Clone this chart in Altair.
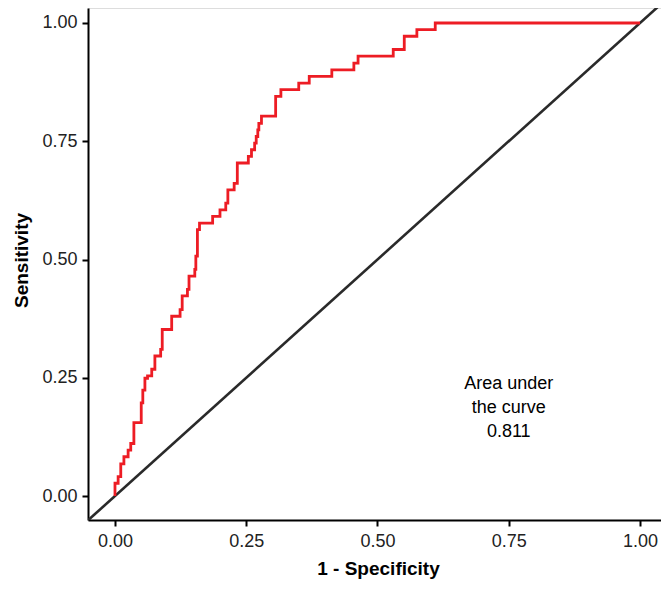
import altair as alt
import pandas as pd

# ROC curve vertices (1 - specificity, sensitivity)
fpr = [0.000, 0.000, 0.006, 0.006, 0.011, 0.011, 0.017, 0.017, 0.025, 0.025,
       0.030, 0.030, 0.036, 0.036, 0.050, 0.050, 0.053, 0.053, 0.057, 0.057,
       0.062, 0.062, 0.070, 0.070, 0.076, 0.076, 0.087, 0.087, 0.090, 0.090,
       0.108, 0.108, 0.124, 0.124, 0.128, 0.128, 0.138, 0.138, 0.141, 0.141,
       0.152, 0.152, 0.154, 0.154, 0.157, 0.157, 0.161, 0.161, 0.186, 0.186,
       0.200, 0.200, 0.211, 0.211, 0.215, 0.215, 0.227, 0.227, 0.233, 0.233,
       0.254, 0.254, 0.260, 0.260, 0.266, 0.266, 0.269, 0.269, 0.272, 0.272,
       0.274, 0.274, 0.279, 0.279, 0.306, 0.306, 0.316, 0.316, 0.350, 0.350,
       0.370, 0.370, 0.413, 0.413, 0.455, 0.455, 0.463, 0.463, 0.530, 0.530,
       0.551, 0.551, 0.575, 0.575, 0.610, 0.610, 1.000]
tpr = [0.000, 0.027, 0.027, 0.041, 0.041, 0.068, 0.068, 0.083, 0.083, 0.097,
       0.097, 0.111, 0.111, 0.155, 0.155, 0.197, 0.197, 0.224, 0.224, 0.249,
       0.249, 0.254, 0.254, 0.268, 0.268, 0.296, 0.296, 0.310, 0.310, 0.352,
       0.352, 0.380, 0.380, 0.394, 0.394, 0.423, 0.423, 0.437, 0.437, 0.465,
       0.465, 0.479, 0.479, 0.507, 0.507, 0.563, 0.563, 0.577, 0.577, 0.591,
       0.591, 0.605, 0.605, 0.619, 0.619, 0.647, 0.647, 0.661, 0.661, 0.704,
       0.704, 0.718, 0.718, 0.732, 0.732, 0.746, 0.746, 0.760, 0.760, 0.774,
       0.774, 0.788, 0.788, 0.803, 0.803, 0.845, 0.845, 0.859, 0.859, 0.873,
       0.873, 0.887, 0.887, 0.901, 0.901, 0.915, 0.915, 0.930, 0.930, 0.944,
       0.944, 0.972, 0.972, 0.986, 0.986, 1.000, 1.000]

diag_vals = [-0.1, 1.1]
tick_vals = [0.0, 0.25, 0.5, 0.75, 1.0]
auc = 0.811
annotation = ["Area under", "the curve", f"{auc:.3f}"]

roc = pd.DataFrame({"fpr": fpr, "tpr": tpr, "order": list(range(len(fpr)))})
diag = pd.DataFrame({"v": diag_vals})

FONT = "Liberation Sans"
xdom = [-0.0514, 1.04]
ydom = [-0.0507, 1.0317]

xscale = alt.Scale(domain=xdom, nice=False, zero=False)
yscale = alt.Scale(domain=ydom, nice=False, zero=False)

x_axis = alt.Axis(values=tick_vals, format=".2f", title="1 - Specificity",
                  grid=False, domainColor="black", domainWidth=2,
                  tickColor="black", tickWidth=2, tickSize=6,
                  labelFont=FONT, labelFontSize=18, labelColor="#222222",
                  labelPadding=6,
                  titleFont=FONT, titleFontSize=19, titleFontWeight="bold",
                  titleColor="black", titleX=290, titleY=48,
                  titleBaseline="middle", titleAlign="center")
y_axis = alt.Axis(values=tick_vals, format=".2f", title="Sensitivity",
                  grid=False, domainColor="black", domainWidth=2,
                  tickColor="black", tickWidth=2, tickSize=6,
                  labelFont=FONT, labelFontSize=18, labelColor="#222222",
                  labelPadding=5,
                  titleFont=FONT, titleFontSize=19, titleFontWeight="bold",
                  titleColor="black", titleX=-67, titleY=252, titleAngle=270,
                  titleBaseline="middle", titleAlign="center")

diag_line = alt.Chart(diag).mark_line(color="#2a2a2a", strokeWidth=2.6, clip=True).encode(
    x=alt.X("v:Q", scale=xscale, axis=x_axis),
    y=alt.Y("v:Q", scale=yscale, axis=y_axis),
)

roc_line = alt.Chart(roc).mark_line(color="#ED1C24", strokeWidth=2.8, clip=True).encode(
    x=alt.X("fpr:Q", scale=xscale),
    y=alt.Y("tpr:Q", scale=yscale),
    order="order:Q",
)

text = alt.Chart(pd.DataFrame({"t": ["\n".join(annotation)]})).mark_text(
    font=FONT, fontSize=18, color="black", lineBreak="\n", lineHeight=24,
    align="center", baseline="middle"
).encode(
    x=alt.datum(0.75, scale=xscale),
    y=alt.datum(0.237, scale=yscale),
    text="t:N",
)

chart = alt.layer(diag_line, roc_line, text).properties(
    width=573, height=512,
    autosize=alt.AutoSizeParams(type="none"),
    padding={"left": 80, "top": 0, "right": 0, "bottom": 61},
).configure_view(stroke=None).configure(background="white")

chart.save("out.html", embed_options={"renderer": "svg", "actions": False})
